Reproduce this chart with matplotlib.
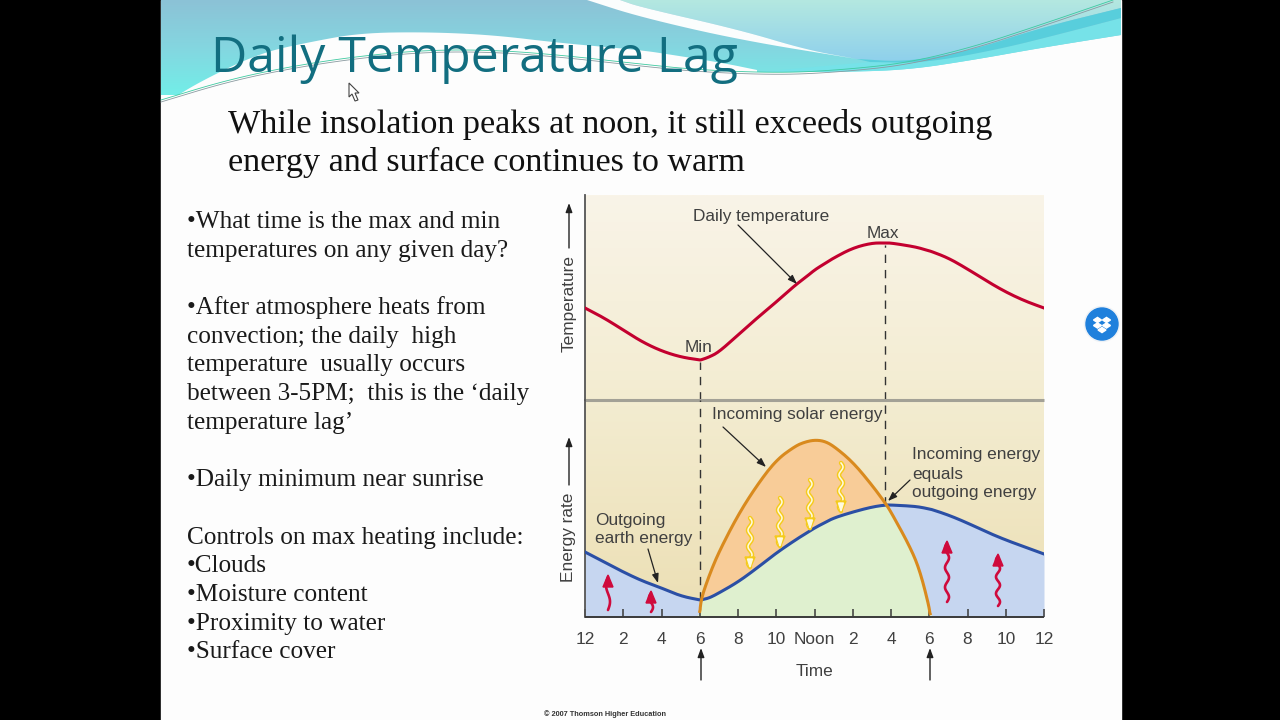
import numpy as np
import matplotlib
matplotlib.use("Agg")
import matplotlib.pyplot as plt
from matplotlib.patches import Polygon, Circle, Rectangle
from matplotlib.colors import LinearSegmentedColormap

# hours after midnight
hours = [0, 1, 2, 3, 4, 5, 6, 6.05, 6.5, 7, 8, 9, 10, 11, 11.5, 12, 12.5, 13, 14, 15, 15.7, 16, 17, 17.5, 18, 18.05, 19, 20, 21, 22, 23, 24]
temperature = [92, 82, 70, 58, 49, 43, 40, 40, 43, 48, 65, 82, 98, 115, 122, 130, 136, 142, 152, 157, 157, 157, 154, 152, 149, 149, 142, 131, 119, 108, 99, 92]
outgoing = [65, 55, 45, 36, 29, 21, 17, 17, 19, 24, 35, 49, 64, 77, 83, 89, 94, 99, 105, 110, 112, 112, 111, 110, 108, 108, 102, 94, 85, 77, 70, 63]
incoming = [0, 0, 0, 0, 0, 0, 0, 17, 42, 65, 102, 132, 157, 171, 175, 177, 176, 171, 155, 132, 114, 105, 70, 47, 10, 0, 0, 0, 0, 0, 0, 0]
tick_hours = [0, 2, 4, 6, 8, 10, 12, 14, 16, 18, 20, 22, 24]
tick_names = ["12", "2", "4", "6", "8", "10", "Noon", "2", "4", "6", "8", "10", "12"]
min_hour = 6
max_hour = 15.7

title = "Daily Temperature Lag"
subtitle = ["While insolation peaks at noon, it still exceeds outgoing",
            "energy and surface continues to warm"]
left_lines = ["•What time is the max and min",
              "temperatures on any given day?",
              "",
              "•After atmosphere heats from",
              "convection; the daily  high",
              "temperature  usually occurs",
              "between 3-5PM;  this is the ‘daily",
              "temperature lag’",
              "",
              "•Daily minimum near sunrise",
              "",
              "Controls on max heating include:",
              "•Clouds",
              "•Moisture content",
              "•Proximity to water",
              "•Surface cover"]

W, H = 1280, 720
SANS = "Liberation Sans"
SERIF = "Liberation Serif"
GREY = "#404040"
LABEL = 12.4


def smooth(pts, n=3):
    # corner cutting so that the read points do not show as a polyline
    pts = np.array(pts, dtype=float)
    for _ in range(n):
        q = pts[:-1] * 0.75 + pts[1:] * 0.25
        r = pts[:-1] * 0.25 + pts[1:] * 0.75
        mid = np.empty((len(q) * 2, pts.shape[1]))
        mid[0::2] = q
        mid[1::2] = r
        pts = np.vstack([pts[0], mid, pts[-1]])
    return pts


def gradient(ax, colors, extent, clip=None, zorder=1):
    cmap = LinearSegmentedColormap.from_list("g", colors)
    im = ax.imshow(np.linspace(0, 1, 256).reshape(-1, 1), cmap=cmap, aspect="auto",
                   extent=extent, zorder=zorder)
    if clip is not None:
        p = Polygon(clip, closed=True, transform=ax.transData)
        im.set_clip_path(p)


def wavy(ax, x, y_tail, y_head, color, inner, waves=3, lw=2.4):
    y = np.linspace(y_tail, y_head, 80)
    xs = x + 2.0 * np.sin((y - y_tail) / (y_head - y_tail) * waves * 2 * np.pi)
    ax.plot(xs, y, color=color, lw=lw, zorder=6, solid_capstyle="round")
    if inner:
        ax.plot(xs, y, color=inner, lw=lw * 0.35, zorder=7)
    d = 1 if y_head > y_tail else -1
    ax.add_patch(Polygon([[x - 5, y_head - 10 * d], [x + 5, y_head - 10 * d], [x, y_head + 2 * d]],
                         closed=True, color=color, zorder=7))
    if inner:
        ax.add_patch(Polygon([[x - 2.5, y_head - 8 * d], [x + 2.5, y_head - 8 * d], [x, y_head]],
                             closed=True, color=inner, zorder=8))


def arrow(ax, start, end, lw=0.9, head=0.36):
    ax.annotate("", xy=end, xytext=start, zorder=9,
                arrowprops=dict(arrowstyle=f"-|>,head_width={head * 0.55},head_length={head * 1.5}",
                                color="#222222", lw=lw, shrinkA=0, shrinkB=0))


fig = plt.figure(figsize=(12.8, 7.2), dpi=100, facecolor="black")

# slide in pixel coordinates
bg = fig.add_axes([0, 0, 1, 1], zorder=0)
bg.set_xlim(0, W)
bg.set_ylim(H, 0)
bg.axis("off")
bg.add_patch(Rectangle((161, 0), 960, H, color="#fdfdfd", zorder=0))

upper_white = [(161, 104), (170, 100), (203, 80), (260, 53), (310, 42), (360, 33), (427, 32), (493, 35),
               (560, 43), (640, 50), (673, 55), (723, 63), (757, 70)]
lower_cyan = [(757, 72), (840, 72), (907, 70), (973, 60), (1040, 48), (1121, 35)]
banner = [(161, 0), (1121, 0)] + [tuple(p) for p in smooth(lower_cyan)[::-1]] + [tuple(p) for p in smooth(upper_white)[::-1]]
gradient(bg, ["#8cc2d6", "#84d6e0", "#72eee8"], (161, 1121, 95, 0), clip=banner, zorder=1)

top_edge = [(857, 59), (907, 62), (973, 50), (1040, 28), (1121, 8)]
swoosh_top = [(620, 0), (640, 7), (740, 30), (807, 50), (857, 59)]
light = [(620, 0)] + [tuple(p) for p in smooth(swoosh_top)] + [tuple(p) for p in smooth(top_edge)] + [(1121, 0)]
gradient(bg, ["#b4e8e0", "#8ed0ec"], (620, 1121, 62, 0), clip=light, zorder=2)

swoosh_low = [(587, 0), (640, 17), (740, 40), (857, 59)]
white = [tuple(p) for p in smooth(swoosh_top)] + [tuple(p) for p in smooth(swoosh_low)[::-1]]
bg.add_patch(Polygon(white, closed=True, color="#fbfdfd", lw=0, zorder=3))

band_low = [(870, 62), (925, 63), (1000, 49), (1060, 34), (1121, 18)]
band = [tuple(p) for p in smooth(top_edge)] + [tuple(p) for p in smooth(band_low)[::-1]]
right_cyan = [tuple(p) for p in smooth(band_low)] + [tuple(p) for p in smooth(lower_cyan)[::-1]]
bg.add_patch(Polygon(right_cyan, closed=True, color="#76e2e8", lw=0, zorder=3))
bg.add_patch(Polygon(band, closed=True, color="#58cedc", lw=0, zorder=3))

thin_line = [(161, 100), (227, 80), (293, 66), (360, 56), (427, 50), (493, 50), (560, 55), (640, 64), (700, 70),
             (780, 73), (840, 70), (907, 63), (973, 47), (1040, 25), (1113, 0)]
thin = smooth(thin_line)
bg.plot(thin[:, 0], thin[:, 1], color="#3ec9a0", lw=0.6, zorder=4)
bg.plot(thin[:, 0], thin[:, 1] + 2, color="#8a9aa0", lw=0.6, zorder=4)

# chart background
gradient(bg, ["#f9f4e8", "#f3ecd0", "#ecdfb4"], (585, 1044, 617, 195), zorder=1)

# text of the slide
bg.text(211, 72, title, family="Open Sans", fontsize=36, color="#126e80", va="baseline", zorder=10)
for i, line in enumerate(subtitle):
    bg.text(228, 133 + 38.5 * i, line, family=SERIF, fontsize=24.6, color="#111111", va="baseline", zorder=10)
for i, line in enumerate(left_lines):
    bg.text(187, 228 + 28.7 * i, line, family=SERIF, fontsize=18.2, color="#1a1a1a", va="baseline", zorder=10)

# mouse cursor
bg.add_patch(Polygon([(349, 83), (349, 97), (352, 94), (355, 101), (358, 100), (355, 93), (359, 93)],
                     closed=True, fc="white", ec="#444444", lw=0.8, zorder=10))

# dropbox button
bg.add_patch(Circle((1102, 324), 17.5, color="#eef2f6", zorder=4))
bg.add_patch(Circle((1102, 324), 16, color="#1f80dc", zorder=5))
for cx, cy in [(1097.5, 320), (1106.5, 320), (1097.5, 325.5), (1106.5, 325.5), (1102, 330)]:
    bg.add_patch(Polygon([(cx - 4, cy), (cx, cy - 2.6), (cx + 4, cy), (cx, cy + 2.6)], closed=True, color="white", zorder=6))

# the two panels of the chart
left, right, top, mid, bottom = 585, 1044, 195, 400, 617
ax_t = fig.add_axes([left / W, (H - mid) / H, (right - left) / W, (mid - top) / H], zorder=1)
ax_e = fig.add_axes([left / W, (H - bottom) / H, (right - left) / W, (bottom - mid) / H], zorder=1)
for ax in (ax_t, ax_e):
    ax.patch.set_alpha(0)
    ax.set_xlim(0, 24)
    ax.set_yticks([])
    ax.spines["top"].set_visible(False)
    ax.spines["right"].set_visible(False)
    ax.spines["left"].set_color("#555555")
    ax.spines["left"].set_linewidth(1.3)
    ax.spines["bottom"].set_capstyle("butt")
ax_t.set_ylim(0, mid - top)
ax_e.set_ylim(0, bottom - mid)

x, temp, out, sol = smooth(np.column_stack([hours, temperature, outgoing, incoming])).T

ax_t.plot(x, temp, color="#c3002f", lw=2.2, zorder=3)
ax_t.spines["bottom"].set_color("#a3a196")
ax_t.spines["bottom"].set_linewidth(2.2)
ax_t.set_xticks([])
ax_t.vlines([min_hour, max_hour], 0, [np.interp(min_hour, x, temp) - 2, np.interp(max_hour, x, temp) - 2],
            color="#333333", lw=1, linestyles=(0, (6, 5)), zorder=2)

ax_e.fill_between(x, np.minimum(out, sol), out, color="#c6d6f0", lw=0, zorder=1)
ax_e.fill_between(x, 0, np.minimum(out, sol), color="#dff0cf", lw=0, zorder=1)
ax_e.fill_between(x, out, np.maximum(out, sol), color="#f8cc98", lw=0, zorder=1)
ax_e.plot(x, out, color="#2b4fa5", lw=2.2, zorder=3)
on = (x >= 6) & (x <= 18.05)
ax_e.plot(x[on], sol[on], color="#d98a1e", lw=2.2, zorder=4)
ax_e.vlines([min_hour, max_hour], [np.interp(min_hour, x, out), np.interp(max_hour, x, out)], bottom - mid,
            color="#333333", lw=1, linestyles=(0, (6, 5)), zorder=2)

ax_e.spines["bottom"].set_color("#3a3a3a")
ax_e.spines["bottom"].set_linewidth(1.4)
ax_e.set_xticks(tick_hours)
ax_e.set_xticklabels(tick_names, family=SANS, fontsize=LABEL, color=GREY)
ax_e.tick_params(axis="x", direction="in", length=6, width=1.1, color="#3a3a3a", pad=10.7)

# labels and arrows on top of the chart
fg = fig.add_axes([0, 0, 1, 1], zorder=3)
fg.set_xlim(0, W)
fg.set_ylim(H, 0)
fg.axis("off")
fg.patch.set_alpha(0)

labels = [(761, 216.5, "Daily temperature"), (883, 234, "Max"), (699, 348, "Min"), (797, 415, "Incoming solar energy"),
          (814, 672, "Time")]
for lx, ly, s in labels:
    fg.text(lx, ly, s, family=SANS, fontsize=LABEL, color=GREY, ha="center", va="center")
for ly, s in [(520, "Outgoing"), (538, "earth energy")]:
    fg.text(595, ly, s, family=SANS, fontsize=LABEL, color=GREY, va="center")
for ly, s in [(455, "Incoming energy"), (474, "equals"), (492, "outgoing energy")]:
    fg.text(912, ly, s, family=SANS, fontsize=LABEL, color=GREY, va="center")
fg.text(569, 304, "Temperature", family=SANS, fontsize=LABEL, color=GREY, rotation=90, ha="center", va="center")
fg.text(569, 537, "Energy rate", family=SANS, fontsize=LABEL, color=GREY, rotation=90, ha="center", va="center")
fg.text(544, 714, "© 2007 Thomson Higher Education", family=SANS, fontsize=5.3, weight="bold", color="#333333", va="center")

arrow(fg, (738, 225), (797, 284))
arrow(fg, (723, 427), (766, 467))
arrow(fg, (648, 549), (658, 583))
arrow(fg, (910, 480), (888, 501))
for start, end in [((569, 248), (569, 203)), ((569, 485), (569, 437)), ((701, 680), (701, 648)), ((930, 680), (930, 648))]:
    arrow(fg, start, end, lw=1.0)

# wavy radiation arrows
for wx, y0, y1 in [(750, 518, 567), (780, 498, 546), (810, 480, 528), (841, 463, 511)]:
    wavy(fg, wx, y0, y1, "#f5cb1c", "#fffbe0", waves=3, lw=3.2)
for wx, y0, y1 in [(608, 610, 577), (651, 612, 593), (947, 602, 543), (998, 606, 556)]:
    wavy(fg, wx, y0, y1, "#cf0a3c", None, waves=1 if y0 - y1 < 40 else 3, lw=1.9)

fig.savefig("out.png", dpi=100, facecolor=fig.get_facecolor())
